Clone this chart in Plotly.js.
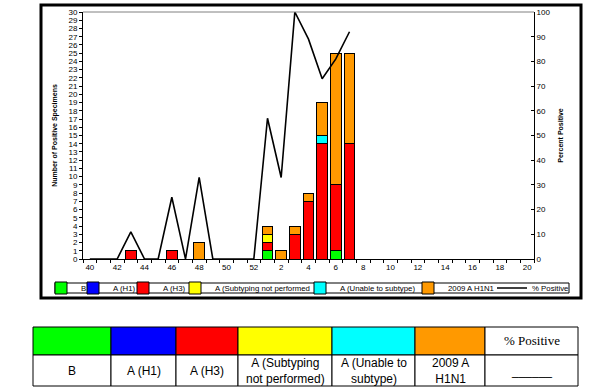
<!DOCTYPE html>
<html><head><meta charset="utf-8">
<script src="https://cdn.plot.ly/plotly-3.0.1.min.js"></script>
<style>html,body{margin:0;padding:0;background:#fff;}#chart{width:610px;height:391px;}</style>
</head><body><div id="chart"></div>
<script>
// ---- data ----
var weeks = ['40','41','42','43','44','45','46','47','48','49','50','51','52','1','2','3','4','5','6','7','8','9','10','11','12','13','14','15','16','17','18','19','20'];
var tickLabels = ['40','','42','','44','','46','','48','','50','','52','','2','','4','','6','','8','','10','','12','','14','','16','','18','','20'];
var fluB     = [0,0,0,0,0,0,0,0,0,0,0,0,0, 1,0,0,0,0,1,0, 0,0,0,0,0,0,0,0,0,0,0,0,0];
var fluAH1   = [0,0,0,0,0,0,0,0,0,0,0,0,0, 0,0,0,0,0,0,0, 0,0,0,0,0,0,0,0,0,0,0,0,0];
var fluAH3   = [0,0,0,1,0,0,1,0,0,0,0,0,0, 1,0,3,7,14,8,14, 0,0,0,0,0,0,0,0,0,0,0,0,0];
var fluANotSub = [0,0,0,0,0,0,0,0,0,0,0,0,0, 1,0,0,0,0,0,0, 0,0,0,0,0,0,0,0,0,0,0,0,0];
var fluAUnable = [0,0,0,0,0,0,0,0,0,0,0,0,0, 0,0,0,0,1,0,0, 0,0,0,0,0,0,0,0,0,0,0,0,0];
var h1n1_2009  = [0,0,0,0,0,0,0,0,2,0,0,0,0, 1,1,1,1,4,16,11, 0,0,0,0,0,0,0,0,0,0,0,0,0];
var pctPositive = [0,0,0,11,0,0,25,0,33,0,0,0,0, 57,33,100,89,73,81,92, null,null,null,null,null,null,null,null,null,null,null,null,null];
var seriesNames = ['B','A (H1)','A (H3)','A (Subtyping not performed','A (Unable to subtype)','2009 A H1N1','% Positive'];
var seriesColors = ['#00FF00','#0000FF','#FF0000','#FFFF00','#00FFFF','#FF9900'];
var tableHeader = ['','','','','','','% Positive'];
var tableLabels = ['B','A (H1)','A (H3)','A (Subtyping<br>not performed)','A (Unable to<br>subtype)','2009 A<br>H1N1','______'];

// ---- layout helpers (pixel -> paper) ----
var W = 610, H = 391;
function px(x){ return x / W; }
function py(y){ return (H - y) / H; }
var SANS = 'Liberation Sans, Arial, sans-serif';
var SERIF = 'Liberation Serif, Times New Roman, serif';

// legend entry left positions (px) for each series
var legendLeft = [41, 73, 123, 175, 300, 408, 492];

var barSeries = [fluB, fluAH1, fluAH3, fluANotSub, fluAUnable, h1n1_2009];
var traces = barSeries.map(function(vals, i){
  return {type:'bar', x:weeks, y:vals, name:seriesNames[i],
    marker:{color:seriesColors[i], line:{color:'#000', width:1}},
    xaxis:'x', yaxis:'y', hoverinfo:'skip', legend: i === 0 ? 'legend' : 'legend' + (i + 1)};
});
traces.push({type:'scatter', mode:'lines', x:weeks, y:pctPositive, name:seriesNames[6],
  line:{color:'#000', width:1.6}, xaxis:'x', yaxis:'y2', connectgaps:false, hoverinfo:'skip', legend:'legend7'});

var axFont = {family:SANS, size:8, color:'#000'};
var layout = {
  width:W, height:H, margin:{l:0,r:0,t:0,b:0}, paper_bgcolor:'#fff', plot_bgcolor:'#fff',
  barmode:'stack', bargap:0.22, showlegend:true,
  font:{family:SANS, size:8, color:'#000'},
  xaxis:{type:'category', domain:[px(83), px(534)], anchor:'y',
    tickmode:'array', tickvals:weeks, ticktext:tickLabels, tickson:'boundaries', tickangle:0,
    ticks:'outside', ticklen:3, tickcolor:'#000', tickfont:axFont,
    showline:true, linecolor:'#000', linewidth:1, showgrid:false, zeroline:false, fixedrange:true},
  yaxis:{domain:[py(259), py(12)], range:[0,30], dtick:1, tick0:0, anchor:'x',
    ticks:'outside', ticklen:3, tickcolor:'#000', tickfont:axFont,
    showline:true, linecolor:'#000', linewidth:1, showgrid:false, zeroline:false,
    title:{text:'<b>Number of Positive Specimens</b>', font:{family:SANS, size:7, color:'#000'}, standoff:10}},
  yaxis2:{overlaying:'y', side:'right', anchor:'x', range:[0,100], dtick:10, tick0:0,
    ticks:'inside', ticklen:3, tickcolor:'#000', tickfont:axFont,
    showline:true, linecolor:'#000', linewidth:1, showgrid:false, zeroline:false,
    title:{text:'<b>Percent Positive</b>', font:{family:SANS, size:7, color:'#000'}, standoff:8}},
  shapes:[
    {type:'line', xref:'paper', yref:'paper', x0:px(83), x1:px(534), y0:py(12), y1:py(12), line:{color:'#808080', width:1}},
    {type:'rect', xref:'paper', yref:'paper', x0:px(41), x1:px(581), y0:py(298), y1:py(5), line:{color:'#000', width:3}},
    {type:'rect', xref:'paper', yref:'paper', x0:px(55), x1:px(569), y0:py(293), y1:py(283), line:{color:'#000', width:1}}
  ],
  annotations:[]
};
// separate single-entry legends so each key sits where the reference puts it
legendLeft.forEach(function(x, i){
  var key = i === 0 ? 'legend' : 'legend' + (i + 1);
  layout[key] = {orientation:'h', x:px(x), xanchor:'left', y:py(288), yanchor:'middle',
    bgcolor:'rgba(0,0,0,0)', borderwidth:0, itemwidth:30,
    font:{family:SANS, size:7.8, color:'#000'}};
});

// key table below the chart (shapes + annotations)
var cols = [33,111,176,238,332,415,485,578];
var rowTop = 327, rowMid = 355, rowBot = 386;
for (var c = 0; c < 7; c++) {
  layout.shapes.push({type:'rect', xref:'paper', yref:'paper', x0:px(cols[c]), x1:px(cols[c+1]),
    y0:py(rowMid), y1:py(rowTop), fillcolor: c < 6 ? seriesColors[c] : '#FFFFFF', line:{color:'#000', width:1}});
  layout.shapes.push({type:'rect', xref:'paper', yref:'paper', x0:px(cols[c]), x1:px(cols[c+1]),
    y0:py(rowBot), y1:py(rowMid), fillcolor:'#FFFFFF', line:{color:'#000', width:1}});
  if (tableHeader[c]) layout.annotations.push({xref:'paper', yref:'paper', x:px((cols[c]+cols[c+1])/2), y:py((rowTop+rowMid)/2 - 1),
    text:tableHeader[c], showarrow:false, xanchor:'center', yanchor:'middle', font:{family:SERIF, size:13, color:'#000'}});
  layout.annotations.push({xref:'paper', yref:'paper', x:px((cols[c]+cols[c+1])/2), y:py((rowMid+rowBot)/2),
    text:tableLabels[c], showarrow:false, xanchor:'center', yanchor:'middle', font:{family:SANS, size:12, color:'#000'}});
}
Plotly.newPlot('chart', traces, layout, {staticPlot:true, displayModeBar:false});
</script></body></html>
